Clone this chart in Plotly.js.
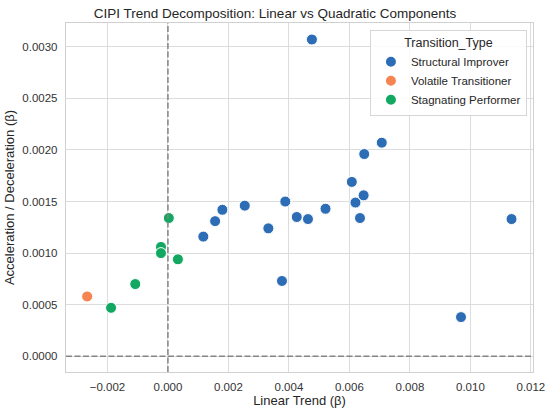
<!DOCTYPE html>
<html>
<head>
<meta charset="utf-8">
<script src="https://cdn.plot.ly/plotly-3.0.1.min.js"></script>
<style>html,body{margin:0;padding:0;background:#fff;}#chart{width:550px;height:420px;}</style>
</head>
<body>
<div id="chart"></div>
<script>
const categories = ["Structural Improver", "Volatile Transitioner", "Stagnating Performer"];
const colors = ["#2d6db5", "#f58450", "#12a862"];

const improverLinear = [0.00117, 0.00156, 0.00180, 0.00254, 0.00332, 0.00377, 0.00388, 0.00426, 0.00463, 0.00521, 0.00608, 0.00620, 0.00647, 0.00635, 0.00649, 0.00707, 0.00969, 0.01136, 0.00476];
const improverQuad   = [0.00116, 0.00131, 0.00142, 0.00146, 0.00124, 0.00073, 0.00150, 0.00135, 0.00133, 0.00143, 0.00169, 0.00149, 0.00156, 0.00134, 0.00196, 0.00207, 0.00038, 0.00133, 0.00307];

const volatileLinear = [-0.00267];
const volatileQuad   = [0.00058];

const stagnatingLinear = [-0.00188, -0.00108, -0.00023, -0.00023, 0.00003, 0.00033];
const stagnatingQuad   = [0.00047, 0.00070, 0.00106, 0.00100, 0.00134, 0.00094];

const xTicks = [-0.002, 0.000, 0.002, 0.004, 0.006, 0.008, 0.010, 0.012];
const yTicks = [0.0000, 0.0005, 0.0010, 0.0015, 0.0020, 0.0025, 0.0030];

const seriesX = [improverLinear, volatileLinear, stagnatingLinear];
const seriesY = [improverQuad, volatileQuad, stagnatingQuad];

const font = "Liberation Sans, Arial, sans-serif";
const traces = categories.map((name, i) => ({
  type: "scatter",
  mode: "markers",
  name: name,
  x: seriesX[i],
  y: seriesY[i],
  marker: {color: colors[i], size: 11, line: {color: "#ffffff", width: 1}}
}));

const layout = {
  width: 550, height: 420,
  margin: {l: 66, r: 17, t: 23, b: 48},
  paper_bgcolor: "#ffffff",
  plot_bgcolor: "#ffffff",
  font: {family: font, color: "#333333", size: 11},
  title: {text: "CIPI Trend Decomposition: Linear vs Quadratic Components", font: {family: font, size: 13.5, color: "#262626"}, x: 0.5, xanchor: "center", y: 0.969, yanchor: "middle"},
  xaxis: {
    range: [-0.00337, 0.01207],
    tickvals: xTicks,
    tickformat: ".3f",
    showgrid: true, gridcolor: "#dcdcdc", gridwidth: 1,
    zeroline: false,
    showline: true, linecolor: "#d0d0d0", linewidth: 1.2, mirror: true,
    ticks: "outside", ticklen: 4, tickcolor: "rgba(0,0,0,0)", tickfont: {size: 11.5, color: "#333333"},
    title: {text: "Linear Trend (β)", font: {size: 13, color: "#262626"}, standoff: 2}
  },
  yaxis: {
    range: [-0.000152, 0.00323],
    tickvals: yTicks,
    tickformat: ".4f",
    showgrid: true, gridcolor: "#dcdcdc", gridwidth: 1,
    zeroline: false,
    showline: true, linecolor: "#d0d0d0", linewidth: 1.2, mirror: true,
    ticks: "outside", ticklen: 5, tickcolor: "rgba(0,0,0,0)", tickfont: {size: 11.5, color: "#333333"},
    title: {text: "Acceleration / Deceleration (β)", font: {size: 13, color: "#262626"}, standoff: 4}
  },
  shapes: [
    {type: "line", xref: "x", yref: "paper", x0: 0, x1: 0, y0: 0, y1: 1, line: {color: "#858585", width: 1.5, dash: "6px,2.5px"}},
    {type: "line", xref: "paper", yref: "y", x0: 0, x1: 1, y0: 0, y1: 0, line: {color: "#858585", width: 1.5, dash: "6px,2.5px"}}
  ],
  legend: {
    x: 0.987, xanchor: "right", y: 0.98, yanchor: "top",
    bgcolor: "rgba(255,255,255,0.85)", bordercolor: "#d6d6d6", borderwidth: 1,
    font: {size: 11.5, color: "#262626"},
    title: {text: "Transition_Type", font: {size: 12.5, color: "#262626"}, side: "top center"},
    itemsizing: "constant", tracegroupgap: 0
  },
  showlegend: true
};

Plotly.newPlot("chart", traces, layout, {displayModeBar: false, staticPlot: true});
</script>
</body>
</html>
